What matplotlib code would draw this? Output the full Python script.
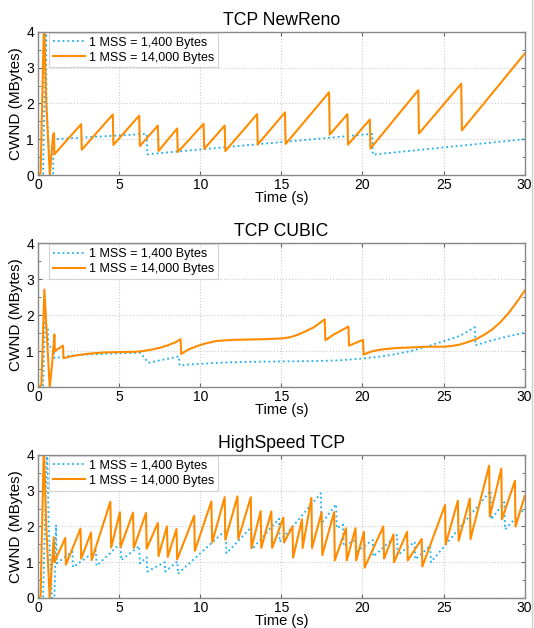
import matplotlib
matplotlib.use("Agg")
import matplotlib.pyplot as plt
from matplotlib.lines import Line2D
from matplotlib.ticker import MultipleLocator

plt.rcParams['font.family'] = ['Liberation Sans', 'DejaVu Sans']

titles = ["TCP NewReno", "TCP CUBIC", "HighSpeed TCP"]
labels = ["1 MSS = 1,400 Bytes", "1 MSS = 14,000 Bytes"]

# --- TCP NewReno: (time s, cwnd MB) vertices ---
newreno_small_t = [0, 0.3, 0.47, 0.52, 0.75, 0.92, 0.95, 6.69, 6.73, 20.6, 20.64, 30]
newreno_small_v = [0, 0.02, 4.3, 1.9, 0, 0, 1.0, 1.15, 0.58, 1.15, 0.57, 1.0]
newreno_big_t = [0, 0.15, 0.36, 0.5, 0.72, 0.92, 0.98, 1.0, 2.65, 2.69, 4.6, 4.64,
                 6.23, 6.27, 7.38, 7.42, 8.57, 8.61, 10.2, 10.24, 11.5, 11.54,
                 13.5, 13.54, 15.22, 15.26, 17.94, 17.98, 19.07, 19.11, 20.45,
                 20.49, 23.44, 23.48, 26.09, 26.13, 30]
newreno_big_v = [0, 0.05, 4.3, 2.0, 0, 1.13, 1.17, 0.58, 1.42, 0.71, 1.69, 0.84,
                 1.66, 0.81, 1.38, 0.67, 1.3, 0.64, 1.43, 0.73, 1.38, 0.67,
                 1.7, 0.85, 1.75, 0.87, 2.31, 1.13, 1.7, 0.85, 1.55,
                 0.74, 2.37, 1.16, 2.55, 1.25, 3.39]

# --- TCP CUBIC ---
cubic_small_t = [0, 0.3, 0.44, 0.5, 0.6, 0.62, 0.95, 1.0, 1.5, 2, 3, 4, 5, 6.3,
                 6.8, 7.5, 8.68, 8.72, 9.5, 11, 13, 15, 17, 18.5, 20, 21, 22,
                 23, 24, 25, 26, 26.93, 26.97, 28, 29, 30]
cubic_small_v = [0, 0.03, 2.27, 1.62, 1.6, 1.12, 1.12, 0.8, 0.84, 0.87, 0.9,
                 0.92, 0.94, 0.95, 0.67, 0.74, 0.85, 0.6, 0.63, 0.67, 0.7,
                 0.71, 0.72, 0.74, 0.79, 0.84, 0.91, 1.0, 1.13, 1.27, 1.42,
                 1.66, 1.16, 1.3, 1.41, 1.51]
cubic_big_t = [0, 0.2, 0.38, 0.55, 0.71, 0.85, 1.0, 1.03, 1.53, 1.56, 2.0, 2.5,
               3, 3.5, 4, 5, 6, 6.5, 7, 7.5, 8, 8.5, 8.78, 8.82, 9.3, 10, 10.5,
               11, 12, 13, 14, 15, 15.5, 16, 16.5, 17, 17.67, 17.71, 18.2,
               19.13, 19.17, 20.03, 20.07, 20.5, 21, 21.5, 22, 23, 24, 25,
               25.5, 26, 26.5, 27, 27.5, 28, 28.5, 29, 29.5, 30]
cubic_big_v = [0, 0.05, 2.71, 1.3, 0, 0.6, 1.46, 1.0, 1.15, 0.8, 0.85, 0.89,
               0.92, 0.94, 0.96, 0.97, 0.98, 1.0, 1.04, 1.09, 1.16, 1.25, 1.33,
               0.92, 1.05, 1.17, 1.23, 1.28, 1.31, 1.32, 1.33, 1.35, 1.38,
               1.45, 1.55, 1.66, 1.88, 1.3, 1.45, 1.68, 1.15, 1.31, 0.9, 0.98,
               1.03, 1.06, 1.08, 1.1, 1.12, 1.12, 1.14, 1.18, 1.25, 1.33,
               1.45, 1.6, 1.8, 2.05, 2.35, 2.68]

# --- HighSpeed TCP ---
hs_small_t = [0, 0.3, 0.55, 0.65, 0.85, 1.0, 1.1, 1.15, 2.11, 2.15, 3.56, 3.6,
              5.08, 5.12, 6.23, 6.27, 6.69, 6.73, 7.8, 7.84, 8.58, 8.62,
              11.57, 11.61, 13.14, 13.18, 14.85, 14.89, 17.43, 17.47, 18.37,
              18.41, 18.8, 18.84, 19.6, 19.64, 20.63, 20.67, 22.13, 22.17,
              23.22, 23.26, 24.18, 24.22, 27.9, 27.94, 28.75, 28.79, 30]
hs_small_v = [0, 0.02, 4.3, 2.0, 0, 0, 2.05, 0.97, 1.3, 0.86, 1.32, 0.9,
              1.53, 1.06, 1.45, 0.97, 1.14, 0.74, 1.0, 0.74, 1.02, 0.68,
              1.9, 1.25, 1.98, 1.36, 2.22, 1.57, 2.93, 2.08, 2.62,
              1.95, 2.05, 1.45, 1.63, 1.3, 1.62, 1.16, 1.76, 1.2,
              1.57, 1.08, 1.46, 1.0, 3.0, 2.2, 2.68, 1.92, 2.5]
hs_big_t = [0, 0.15, 0.35, 0.5, 0.71, 0.96, 1.0, 1.67, 1.71, 2.61, 2.65, 3.26,
            3.3, 4.45, 4.5, 5.04, 5.08, 5.85, 5.9, 6.65, 6.69, 7.38, 7.42,
            7.94, 7.99, 8.53, 8.57, 9.62, 9.66, 10.68, 10.73, 11.5, 11.54,
            12.29, 12.34, 13.11, 13.15, 13.72, 13.76, 14.38, 14.43, 15.12,
            15.16, 15.68, 15.72, 16.27, 16.31, 16.85, 16.89, 17.48, 17.52,
            18.25, 18.29, 18.98, 19.03, 19.57, 19.61, 20.09, 20.13, 21.28,
            21.33, 21.91, 21.95, 22.75, 22.79, 23.65, 23.69, 25.09, 25.13,
            25.88, 25.93, 26.62, 26.66, 27.81, 27.85, 28.56, 28.6, 29.4,
            29.44, 30]
hs_big_v = [0, 0.05, 4.3, 2.0, 0, 1.7, 1.0, 1.68, 0.93, 1.94, 1.1, 1.83,
            1.06, 2.69, 1.41, 2.4, 1.42, 2.39, 1.4, 2.38, 1.38, 2.1, 1.17,
            2.0, 1.15, 1.93, 1.08, 2.3, 1.32, 2.7, 1.55, 2.82, 1.63,
            2.84, 1.65, 2.82, 1.4, 2.43, 1.4, 2.42, 1.4, 2.25,
            1.55, 2.0, 1.13, 2.2, 1.4, 2.8, 1.4, 2.4, 1.2,
            2.4, 1.05, 1.95, 1.05, 1.95, 1.05, 1.85, 0.85, 2.0,
            1.1, 1.78, 1.0, 1.85, 1.05, 1.65, 0.88, 2.6, 1.5,
            2.72, 1.6, 2.78, 1.65, 3.7, 2.28, 3.62, 2.2, 3.28,
            2.0, 2.85]

panels = [
    (newreno_small_t, newreno_small_v, newreno_big_t, newreno_big_v),
    (cubic_small_t, cubic_small_v, cubic_big_t, cubic_big_v),
    (hs_small_t, hs_small_v, hs_big_t, hs_big_v),
]

BLUE = '#1aaff0'
ORANGE = '#ff8c00'

fig = plt.figure(figsize=(5.34, 6.28), dpi=100)
boxes = [(0.0715, 0.7213, 0.911, 0.228),
         (0.0715, 0.3838, 0.911, 0.229),
         (0.0715, 0.0478, 0.911, 0.2277)]

for box, title, (st, sv, bt, bv) in zip(boxes, titles, panels):
    ax = fig.add_axes(box)
    ax.plot(st, sv, color=BLUE, linestyle=':', linewidth=1.3, label=labels[0])
    ax.plot(bt, bv, color=ORANGE, linestyle='-', linewidth=1.5, label=labels[1])
    ax.set_xlim(0, 30)
    ax.set_ylim(0, 4)
    ax.xaxis.set_major_locator(MultipleLocator(5))
    ax.yaxis.set_major_locator(MultipleLocator(1))
    ax.yaxis.set_minor_locator(MultipleLocator(0.5))
    ax.tick_params(which='both', direction='in', top=True, right=True,
                   labelsize=10, color='#666666')
    ax.tick_params(axis='x', pad=2)
    ax.tick_params(axis='y', pad=3)
    ax.tick_params(which='major', length=3)
    ax.tick_params(which='minor', length=2, top=False)
    for s in ax.spines.values():
        s.set_color('#888888')
        s.set_linewidth(1.0)
    ax.grid(True, which='major', linestyle=':', color='#cccccc', linewidth=0.8)
    ax.set_title(title, fontsize=12.7, pad=5)
    ax.set_xlabel("Time (s)", fontsize=10.5, labelpad=-0.5)
    ax.set_ylabel("CWND (MBytes)", fontsize=11, labelpad=2)
    leg = ax.legend(loc='upper left', bbox_to_anchor=(0.02, 1.0), fontsize=9,
                    frameon=True, fancybox=False, borderpad=0.3,
                    labelspacing=0.25, handlelength=2.6, handletextpad=0.3,
                    borderaxespad=0.08, framealpha=0.85)
    leg.get_frame().set_edgecolor('#cccccc')
    leg.get_frame().set_linewidth(0.8)

fig.add_artist(Line2D([0.997, 0.997], [0, 1], transform=fig.transFigure,
                      color='#cfcfcf', linewidth=1.0))

fig.savefig("out.png", dpi=100)
